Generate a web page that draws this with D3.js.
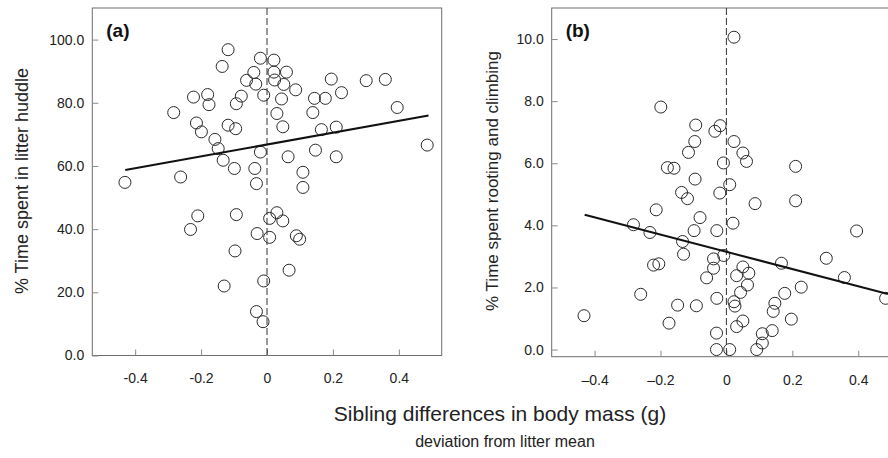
<!DOCTYPE html>
<html>
<head>
<meta charset="utf-8">
<script src="https://cdn.jsdelivr.net/npm/d3@7"></script>
<style>
  body { margin: 0; background: #fff; }
  svg { display: block; font-family: 'Liberation Sans', Arial, sans-serif; }
</style>
</head>
<body>
<script>
// (a) % time spent in litter huddle vs sibling mass difference
const huddleX = [-0.431, -0.262, -0.283, -0.223, -0.180, -0.176, -0.214, -0.199, -0.158, -0.148,
  -0.133, -0.118, -0.136, -0.118, -0.095, -0.093, -0.078, -0.099, -0.062, -0.040,
  -0.034, -0.020, -0.037, -0.020, -0.010, 0.021, 0.021, 0.023, 0.059, 0.051,
  0.087, 0.044, 0.030, 0.048, 0.064, 0.109, 0.109, -0.032, 0.139, 0.144,
  0.177, 0.195, 0.226, 0.165, 0.210, 0.147, 0.210, 0.301, 0.359, 0.395,
  0.486, -0.210, -0.232, -0.093, -0.097, -0.130, -0.030, 0.030, 0.008, 0.048,
  0.008, 0.089, 0.099, 0.067, -0.010, -0.032, -0.012];
const huddleY = [54.8, 56.5, 76.9, 81.8, 82.6, 79.4, 73.6, 70.8, 68.4, 65.5,
  61.8, 96.8, 91.5, 72.9, 71.8, 79.7, 82.1, 59.2, 87.1, 89.6,
  85.9, 94.1, 59.2, 64.4, 82.4, 93.5, 89.7, 87.2, 89.7, 85.8,
  84.1, 81.2, 76.6, 72.4, 62.9, 58.0, 53.2, 54.4, 76.9, 81.4,
  81.4, 87.5, 83.2, 71.5, 72.3, 65.0, 62.9, 87.0, 87.4, 78.5,
  66.6, 44.2, 39.9, 44.6, 33.1, 22.0, 38.6, 45.2, 43.4, 42.6,
  37.4, 37.9, 36.8, 27.0, 23.6, 13.9, 10.7];
const huddleFitX = [-0.43, 0.49];
const huddleFitY = [58.7, 76.0];

// (b) % time spent rooting and climbing vs sibling mass difference
const rootX = [-0.432, -0.282, -0.260, -0.232, -0.221, -0.205, -0.213, -0.199, -0.179, -0.159,
  -0.174, -0.148, -0.136, -0.118, -0.133, -0.130, -0.115, -0.096, -0.093, -0.095,
  -0.098, -0.091, -0.080, -0.060, -0.039, -0.039, -0.035, -0.019, -0.020, -0.029,
  -0.029, -0.030, -0.030, -0.009, -0.008, 0.010, 0.010, 0.023, 0.023, 0.020,
  0.023, 0.026, 0.031, 0.031, 0.043, 0.050, 0.061, 0.050, 0.068, 0.064,
  0.050, 0.087, 0.092, 0.109, 0.109, 0.139, 0.142, 0.147, 0.167, 0.177,
  0.197, 0.210, 0.210, 0.227, 0.303, 0.358, 0.395, 0.483];
const rootY = [1.09, 4.02, 1.78, 3.77, 2.72, 2.76, 4.50, 7.81, 5.86, 5.84,
  0.85, 1.43, 5.06, 4.86, 3.48, 3.07, 6.35, 6.70, 7.23, 5.49,
  3.83, 1.41, 4.25, 2.31, 2.92, 2.62, 7.03, 7.21, 5.04, 3.83,
  1.65, 0.53, 0.0, 6.01, 3.03, 5.31, 0.0, 10.06, 6.70, 4.07,
  1.54, 1.40, 2.38, 0.74, 1.84, 6.33, 6.06, 2.66, 2.46, 2.08,
  0.92, 4.70, 0.0, 0.51, 0.21, 0.61, 1.23, 1.49, 2.78, 1.81,
  0.98, 5.90, 4.79, 2.01, 2.94, 2.32, 3.82, 1.65];
const rootFitX = [-0.43, 0.49];
const rootFitY = [4.34, 1.79];

const xTicks = [-0.4, -0.2, 0, 0.2, 0.4];
const xLabelsA = ['-0.4', '-0.2', '0', '0.2', '0.4'];
const xLabelsB = ['\u20130.4', '\u20130.2', '0', '0.2', '0.4'];
const yTicksA = [0, 20, 40, 60, 80, 100];
const yLabelsA = ['0.0', '20.0', '40.0', '60.0', '80.0', '100.0'];
const yTicksB = [0, 2, 4, 6, 8, 10];
const yLabelsB = ['0.0', '2.0', '4.0', '6.0', '8.0', '10.0'];

const width = 888;
const height = 458;

const svg = d3.select('body').append('svg')
    .attr('width', width)
    .attr('height', height);

function panel(opt) {
    const x = d3.scaleLinear().domain([-0.53, 0.53]).range([opt.left, opt.left + 349.4]);
    const y = d3.scaleLinear().domain(opt.yDomain).range([opt.bottom, 8]);
    const g = svg.append('g');

    // frame
    g.append('rect')
        .attr('x', x.range()[0]).attr('y', 8)
        .attr('width', x.range()[1] - x.range()[0])
        .attr('height', opt.bottom - 8)
        .attr('fill', 'none').attr('stroke', '#6e6e6e').attr('stroke-width', 1);

    const xAxis = g.append('g')
        .attr('transform', `translate(0, ${opt.bottom})`)
        .call(d3.axisBottom(x).tickValues(xTicks).tickSize(-6).tickPadding(18)
            .tickFormat(function(d, i) { return opt.xLabels[i]; }));
    const yAxis = g.append('g')
        .attr('transform', `translate(${x.range()[0]}, 0)`)
        .call(d3.axisLeft(y).tickValues(opt.yTicks).tickSize(-6).tickPadding(8)
            .tickFormat(function(d, i) { return opt.yLabels[i]; }));
    [xAxis, yAxis].forEach(function(a) {
        a.select('.domain').remove();
        a.selectAll('line').attr('stroke', '#8a8a8a');
        a.selectAll('text').attr('fill', '#222').attr('font-size', 14)
            .attr('font-family', 'Liberation Sans, Arial, sans-serif');
    });

    // dashed zero line
    g.append('line')
        .attr('x1', x(0)).attr('x2', x(0))
        .attr('y1', 8).attr('y2', opt.bottom)
        .attr('stroke', '#333').attr('stroke-width', 1)
        .attr('stroke-dasharray', '7,3');

    g.append('g').selectAll('circle')
        .data(opt.xs.map(function(d, i) { return [d, opt.ys[i]]; }))
        .enter().append('circle')
        .attr('cx', function(d) { return x(d[0]); })
        .attr('cy', function(d) { return y(d[1]); })
        .attr('r', 6)
        .attr('fill', 'none')
        .attr('stroke', '#2a2a2a')
        .attr('stroke-width', 1);

    g.append('line')
        .attr('x1', x(opt.fitX[0])).attr('y1', y(opt.fitY[0]))
        .attr('x2', x(opt.fitX[1])).attr('y2', y(opt.fitY[1]))
        .attr('stroke', '#111').attr('stroke-width', 2);

    g.append('text')
        .attr('x', x.range()[0] + 14).attr('y', 37)
        .attr('font-size', 19).attr('font-weight', 'bold').attr('fill', '#111')
        .text(opt.tag);

    g.append('text')
        .attr('transform', `translate(${opt.titleX}, 181) rotate(-90)`)
        .attr('text-anchor', 'middle')
        .attr('font-size', opt.titleSize).attr('fill', '#222')
        .text(opt.title);
}

panel({
    left: 92.3, bottom: 355.5, yDomain: [0, 110],
    xs: huddleX, ys: huddleY, fitX: huddleFitX, fitY: huddleFitY,
    xLabels: xLabelsA, yTicks: yTicksA, yLabels: yLabelsA,
    tag: '(a)', title: '% Time spent in litter huddle', titleX: 28, titleSize: 18
});

panel({
    left: 551.7, bottom: 356.7, yDomain: [-0.23, 11],
    xs: rootX, ys: rootY, fitX: rootFitX, fitY: rootFitY,
    xLabels: xLabelsB, yTicks: yTicksB, yLabels: yLabelsB,
    tag: '(b)', title: '% Time spent rooting and climbing', titleX: 498, titleSize: 17
});

svg.append('text')
    .attr('x', 500).attr('y', 421)
    .attr('text-anchor', 'middle')
    .attr('font-size', 21).attr('fill', '#222')
    .text('Sibling differences in body mass (g)');

svg.append('text')
    .attr('x', 505).attr('y', 447)
    .attr('text-anchor', 'middle')
    .attr('font-size', 16).attr('fill', '#222')
    .text('deviation from litter mean');
</script>
</body>
</html>
